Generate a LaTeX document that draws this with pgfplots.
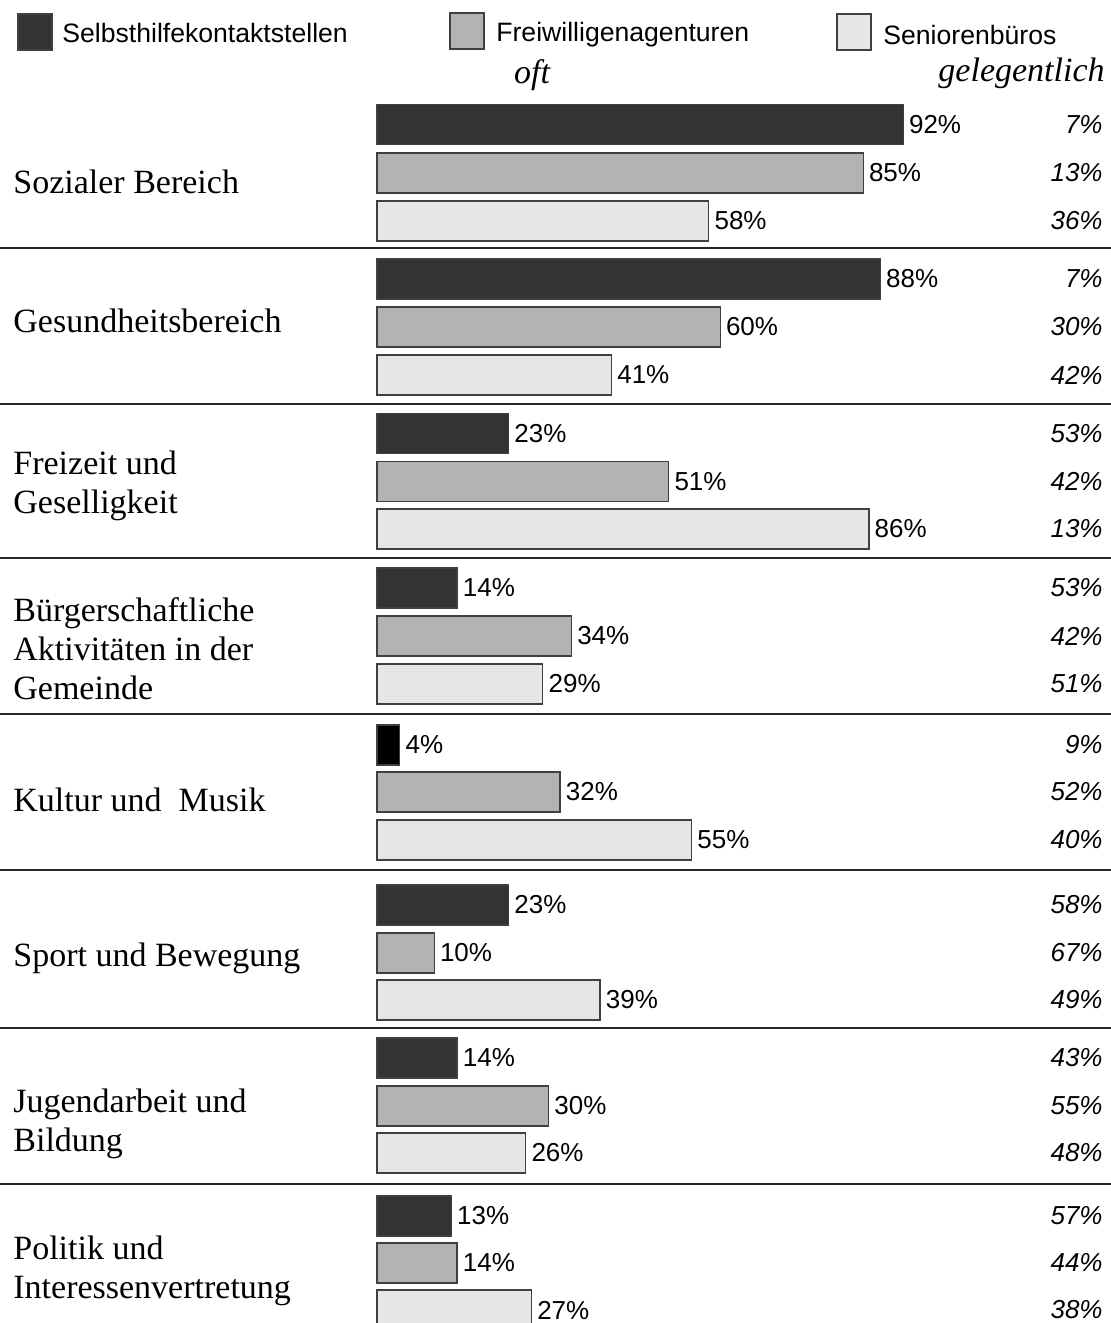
\documentclass[border=0pt]{standalone}
\usepackage{fontspec}
\setmainfont{Liberation Serif}
\setsansfont{Liberation Sans}
\usepackage{pgfplots}
\usepackage{pgfplotstable}
\pgfplotsset{compat=1.18}
\definecolor{cDark}{HTML}{333333}
\definecolor{cMid}{HTML}{B3B3B3}
\definecolor{cLight}{HTML}{E6E6E6}
\definecolor{cEdge}{HTML}{404040}
\newcommand{\sfv}{\sffamily\fontsize{13pt}{15pt}\selectfont}
\newcommand{\sfl}{\sffamily\fontsize{13.3pt}{15pt}\selectfont}
\newcommand{\serv}{\rmfamily\fontsize{17pt}{19.5pt}\selectfont}

% y = vertical position of the bar (px from top), v = percent "oft"
\pgfplotstableread{
y v
124.5 92
279 88
433.5 23
588 14
905 23
1058 14
1216 13
}\selbst
\pgfplotstableread{
y v
745 4
}\selbstb
\pgfplotstableread{
y v
173 85
327 60
481.5 51
636 34
792 32
953 10
1106 30
1263 14
}\freiw
\pgfplotstableread{
y v
221 58
375 41
529 86
684 29
840 55
1000 39
1153 26
1310 27
}\senior
% gelegentlich
\pgfplotstableread{
y v
124.5 7
173 13
221 36
279 7
327 30
375 42
433.5 53
481.5 42
529 13
588 53
636 42
684 51
745 9
792 52
840 40
905 58
953 67
1000 49
1058 43
1106 55
1153 48
1216 57
1263 44
1310 38
}\geleg

\begin{document}
\begin{tikzpicture}
\begin{axis}[
  scale only axis,
  width=555.5pt, height=661.5pt,
  xmin=-65.91, xmax=128.32,
  ymin=0, ymax=1323,
  y dir=reverse,
  hide axis,
  clip=true,
  /pgf/number format/assume math mode=true,
]
\pgfplotsset{barstyle/.style={xbar, bar width=20pt, bar shift=0pt, draw=cEdge, line width=0.6pt,
   point meta=x,
   nodes near coords={\pgfmathprintnumber{\pgfplotspointmeta}\%},
   every node near coord/.append style={anchor=west, font=\sfv, inner sep=0pt, xshift=2.6pt, text=black}}}
\addplot[barstyle, fill=cDark] table[x=v, y=y] {\selbst};
\addplot[barstyle, fill=black] table[x=v, y=y] {\selbstb};
\addplot[barstyle, fill=cMid] table[x=v, y=y] {\freiw};
\addplot[barstyle, fill=cLight] table[x=v, y=y] {\senior};
\addplot[draw=none, mark=none, point meta=explicit,
   nodes near coords={\itshape\pgfmathprintnumber{\pgfplotspointmeta}\%},
   every node near coord/.append style={anchor=east, font=\sfv, inner sep=0pt}]
   table[x expr=126.92, y=y, meta=v] {\geleg};

% separators
\foreach \yy in {248,404,558,714,870,1028,1184}{
  \edef\tmp{\noexpand\draw[line width=1pt, black!85] (axis cs:-65.91,\yy) -- (axis cs:128.32,\yy);}\tmp
}

% legend
\filldraw[fill=cDark, draw=cEdge, line width=0.6pt] (axis cs:-62.76,14) rectangle (axis cs:-56.82,50);
\node[anchor=base west, inner sep=0pt, font=\sfl] at (axis cs:-55.07,42) {Selbsthilfekontaktstellen};
\filldraw[fill=cMid, draw=cEdge, line width=0.6pt] (axis cs:12.76,13) rectangle (axis cs:18.71,49);
\node[anchor=base west, inner sep=0pt, font=\sfl] at (axis cs:20.80,41) {Freiwilligenagenturen};
\filldraw[fill=cLight, draw=cEdge, line width=0.6pt] (axis cs:80.42,14) rectangle (axis cs:86.36,50);
\node[anchor=base west, inner sep=0pt, font=\sfl] at (axis cs:88.46,44) {Seniorenbüros};

\node[anchor=base, inner sep=0pt, font=\serv\itshape] at (axis cs:27.1,83) {oft};
\node[anchor=base east, inner sep=0pt, font=\serv\itshape] at (axis cs:127.27,81) {gelegentlich};

% categories
\tikzset{cat/.style={anchor=west, inner sep=0pt, font=\serv, align=left}}
\node[cat] at (axis cs:-63.64,182) {Sozialer Bereich};
\node[cat] at (axis cs:-63.64,321) {Gesundheitsbereich};
\node[cat] at (axis cs:-63.64,486) {Freizeit und\\Geselligkeit};
\node[cat] at (axis cs:-63.64,649) {Bürgerschaftliche\\Aktivitäten in der\\Gemeinde};
\node[cat] at (axis cs:-63.64,800) {Kultur und~ Musik};
\node[cat] at (axis cs:-63.64,958) {Sport und Bewegung};
\node[cat] at (axis cs:-63.64,1124) {Jugendarbeit und\\Bildung};
\node[cat] at (axis cs:-63.64,1271) {Politik und\\Interessenvertretung};
\end{axis}
\pgfresetboundingbox
\path (current axis.south west) rectangle (current axis.north east);
\end{tikzpicture}
\end{document}
